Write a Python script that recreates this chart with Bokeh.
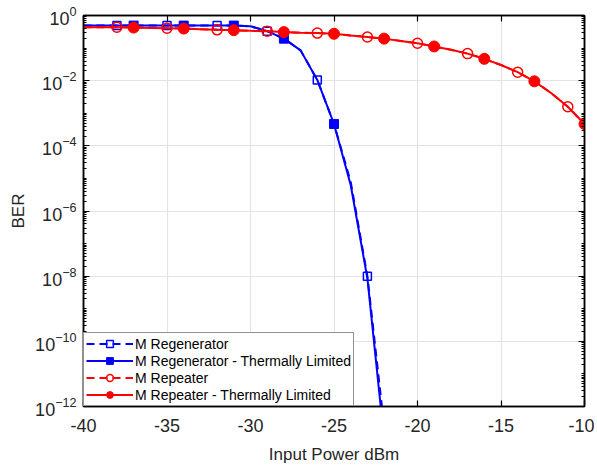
from bokeh.plotting import figure
from bokeh.models import (FixedTicker, LogTickFormatter, LinearAxis, LogAxis,
                          Legend, LegendItem, Range1d)
from bokeh.embed import file_html
from bokeh.resources import INLINE

# ---- data ----
power_dbm = [-40, -39, -38, -37, -36, -35, -34, -33, -32, -31, -30, -29, -28,
             -27, -26, -25, -24, -23, -22, -21, -20, -19, -18, -17, -16, -15,
             -14, -13, -12, -11, -10]

regen_dbm = [-40, -39, -38, -37, -36, -35, -34, -33, -32, -31, -30, -29, -28,
             -27, -26, -25, -24, -23, -22]
regen_ber = [0.49, 0.49, 0.49, 0.49, 0.49, 0.49, 0.49, 0.49, 0.49, 0.49, 0.468,
             0.331, 0.195, 0.0851, 0.0105, 4.68e-4, 7.9e-6, 1.0e-8, 2.5e-13]
regen_tl_ber = [0.49, 0.49, 0.49, 0.49, 0.49, 0.49, 0.49, 0.49, 0.49, 0.49, 0.468,
                0.331, 0.195, 0.0851, 0.0105, 4.68e-4, 6.3e-6, 8.5e-9, 1.0e-13]

repeater_ber = [0.437, 0.437, 0.437, 0.427, 0.417, 0.407, 0.398, 0.380, 0.363,
                0.355, 0.339, 0.331, 0.309, 0.295, 0.288, 0.275, 0.245, 0.219,
                0.195, 0.166, 0.141, 0.112, 0.0891, 0.0676, 0.0468, 0.0302,
                0.0182, 0.00955, 0.00417, 0.00158, 4.68e-4]
repeater_tl_ber = [0.437, 0.437, 0.437, 0.427, 0.417, 0.407, 0.398, 0.380, 0.363,
                   0.355, 0.339, 0.331, 0.309, 0.295, 0.288, 0.275, 0.245, 0.219,
                   0.195, 0.166, 0.141, 0.112, 0.0891, 0.0676, 0.0468, 0.0302,
                   0.0182, 0.00955, 0.00417, 0.00158, 4.68e-4]

regen_marker_dbm = [-38, -35, -32, -29, -26, -23]
regen_tl_marker_dbm = [-37, -34, -31, -28, -25]
rep_marker_dbm = [-38, -35, -32, -29, -26, -23, -20, -17, -14, -11]
rep_tl_marker_dbm = [-37, -34, -31, -28, -25, -22, -19, -16, -13, -10]

x_ticks = [-40, -35, -30, -25, -20, -15, -10]
x_tick_labels = ["-40", "-35", "-30", "-25", "-20", "-15", "-10"]
y_ticks = [1e0, 1e-2, 1e-4, 1e-6, 1e-8, 1e-10, 1e-12]

labels = ["M Regenerator", "M Regenerator - Thermally Limited",
          "M Repeater", "M Repeater - Thermally Limited"]

BLUE = "#0000FF"
RED = "#FF0000"
FONT = "Liberation Sans"
TXT = "#262626"


def pick(xs, ys, sel):
    return [ys[xs.index(v)] for v in sel]


y_minor = [m * 10.0 ** e for e in range(-12, 0) for m in range(1, 10)]

p = figure(width=594, height=466, x_range=Range1d(-40, -10),
           y_range=Range1d(1e-12, 1), y_axis_type="log",
           output_backend="svg", toolbar_location=None,
           min_border_left=83, min_border_right=10, min_border_top=15,
           min_border_bottom=57)

p.outline_line_color = "black"
p.outline_line_width = 1.5
p.outline_line_alpha = 1

# grids
for g in (p.xgrid, p.ygrid):
    g.grid_line_color = "#e3e3e3"
    g.grid_line_width = 1.2

# axes
p.xaxis.ticker = FixedTicker(ticks=x_ticks, minor_ticks=[])
p.xaxis.major_label_overrides = {t: s for t, s in zip(x_ticks, x_tick_labels)}
p.yaxis.ticker = FixedTicker(ticks=y_ticks, minor_ticks=y_minor)
p.yaxis.formatter = LogTickFormatter()
p.xaxis.axis_label = "Input Power dBm"
p.yaxis.axis_label = "BER"


def style_axis(ax, show_labels=True, size="17px"):
    ax.axis_line_color = "black"
    ax.axis_line_width = 1.5
    ax.major_tick_in = 6
    ax.major_tick_out = 0
    ax.minor_tick_in = 3
    ax.minor_tick_out = 0
    ax.major_tick_line_color = "black"
    ax.minor_tick_line_color = "black"
    ax.major_tick_line_width = 1.2
    ax.major_label_text_font = FONT
    ax.major_label_text_color = TXT
    ax.major_label_text_font_size = size if show_labels else "1px"
    if not show_labels:
        ax.major_label_text_alpha = 0
        ax.major_label_standoff = 0
    ax.axis_label_text_font = FONT
    ax.axis_label_text_font_size = "17px"
    ax.axis_label_text_font_style = "normal"
    ax.axis_label_text_color = TXT


for ax in p.xaxis:
    style_axis(ax, size="18px")
    ax.major_label_standoff = 12
    ax.axis_label_standoff = 10
for ax in p.yaxis:
    style_axis(ax, size="18px")
    ax.major_label_standoff = 7
    ax.axis_label_standoff = 4

right = LogAxis(ticker=FixedTicker(ticks=y_ticks, minor_ticks=y_minor))
style_axis(right, show_labels=False)
p.add_layout(right, "right")
top = LinearAxis(ticker=FixedTicker(ticks=x_ticks, minor_ticks=[]))
style_axis(top, show_labels=False)
p.add_layout(top, "above")

# series
l1 = p.line(regen_dbm, regen_ber, line_color=BLUE, line_width=2,
            line_dash="8 5")
s1 = p.scatter(regen_marker_dbm, pick(regen_dbm, regen_ber, regen_marker_dbm),
               marker="square", size=8, line_color=BLUE, line_width=1.5,
               fill_alpha=0)

l2 = p.line(regen_dbm, regen_tl_ber, line_color=BLUE, line_width=2)
s2 = p.scatter(regen_tl_marker_dbm,
               pick(regen_dbm, regen_tl_ber, regen_tl_marker_dbm),
               marker="square", size=9, line_color=BLUE, fill_color=BLUE,
               line_width=1)

l3 = p.line(power_dbm, repeater_ber, line_color=RED, line_width=2,
            line_dash="8 5")
s3 = p.scatter(rep_marker_dbm, pick(power_dbm, repeater_ber, rep_marker_dbm),
               marker="circle", size=10, line_color=RED, line_width=1.5,
               fill_alpha=0)

l4 = p.line(power_dbm, repeater_tl_ber, line_color=RED, line_width=2)
s4 = p.scatter(rep_tl_marker_dbm,
               pick(power_dbm, repeater_tl_ber, rep_tl_marker_dbm),
               marker="circle", size=11, line_color=RED, fill_color=RED,
               line_width=1)

legend = Legend(items=[
    LegendItem(label=labels[0], renderers=[l1, s1]),
    LegendItem(label=labels[1], renderers=[l2, s2]),
    LegendItem(label=labels[2], renderers=[l3, s3]),
    LegendItem(label=labels[3], renderers=[l4, s4]),
], location="bottom_left", margin=0, padding=2, spacing=0,
    glyph_width=47, glyph_height=17, label_height=17, label_standoff=2,
    label_text_font=FONT, label_text_font_size="14px",
    label_text_color="black", border_line_color="#262626",
    border_line_width=1.5, background_fill_alpha=1)
p.add_layout(legend)

open("out.html", "w").write(file_html(p, INLINE))
